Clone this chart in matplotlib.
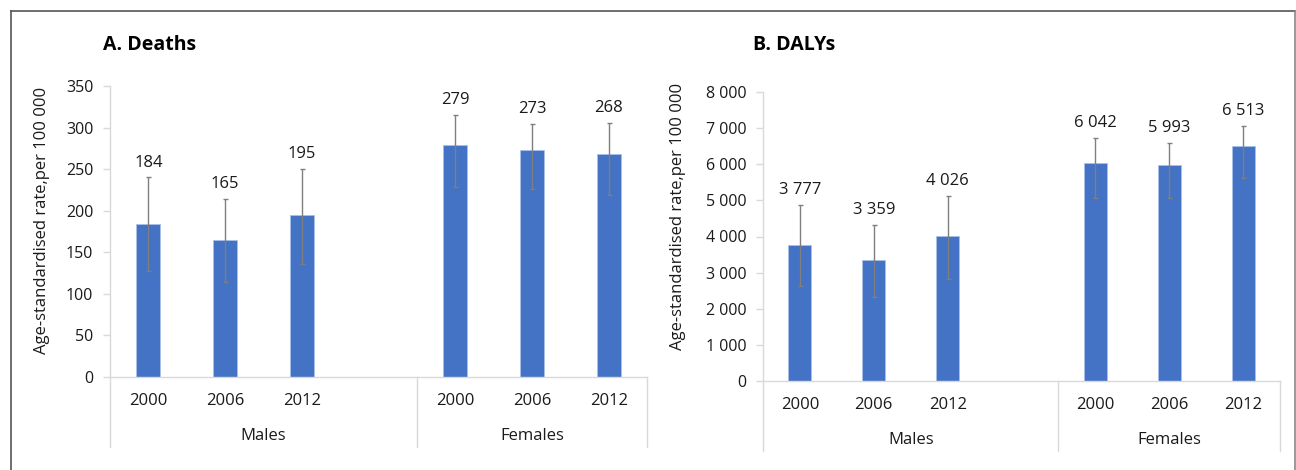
import matplotlib
matplotlib.use("Agg")
import matplotlib.pyplot as plt
from matplotlib.ticker import FuncFormatter

plt.rcParams['font.family'] = ['Open Sans', 'DejaVu Sans']

# data
years = ["2000", "2006", "2012"]
groups = ["Males", "Females"]

deaths = [184, 165, 195, 279, 273, 268]
deaths_lo = [127, 114, 136, 228, 226, 219]
deaths_hi = [240, 214, 250, 315, 304, 305]

dalys = [3777, 3359, 4026, 6042, 5993, 6513]
dalys_lo = [2630, 2325, 2823, 5066, 5066, 5619]
dalys_hi = [4872, 4318, 5121, 6727, 6588, 7059]

BLUE = "#4472C4"
GRID = "#d9d9d9"
TXT = "#1a1a1a"


def fmt(v, pos=None):
    return "{:,}".format(int(v)).replace(",", " ")


def draw_panel(ax, vals, lo, hi, ymax, ystep, fs_val=12):
    xs = [0, 1, 2, 4, 5, 6]
    yerr = [[v - l for v, l in zip(vals, lo)], [h - v for v, h in zip(vals, hi)]]
    ax.bar(xs, vals, width=0.31, color=BLUE, edgecolor="#a9c0e8", linewidth=0.6, zorder=2)
    ax.errorbar(xs, vals, yerr=yerr, fmt="none", ecolor="#7f7f7f",
                elinewidth=1.0, capsize=1.8, capthick=1.0, zorder=3)
    for x, v, h in zip(xs, vals, hi):
        ax.annotate(fmt(v), (x, h), xytext=(0, 5), textcoords="offset points",
                    ha="center", va="bottom", fontsize=fs_val, color=TXT)
    ax.set_xlim(-0.5, 6.5)
    ax.set_ylim(0, ymax)
    ax.set_yticks(range(0, ymax + 1, ystep))
    ax.yaxis.set_major_formatter(FuncFormatter(fmt))
    for s in ["top", "right"]:
        ax.spines[s].set_visible(False)
    for s in ["left", "bottom"]:
        ax.spines[s].set_color(GRID)
        ax.spines[s].set_linewidth(1.0)
    ax.tick_params(axis="y", direction="out", length=5, width=1, color=GRID,
                   pad=7, labelsize=11.5, labelcolor=TXT)
    ax.set_xticks([])

    # multi-level category axis
    h = ax.bbox.height
    tr = ax.get_xaxis_transform()
    for x, y in zip(xs, years * 2):
        ax.text(x, -24 / h, y, transform=tr, ha="center", va="center",
                fontsize=12, color=TXT)
    for x, g in zip([1.5, 5], groups):
        ax.text(x, -59 / h, g, transform=tr, ha="center", va="center",
                fontsize=12, color=TXT)
    for x in [-0.5, 3.5, 6.5]:
        ax.plot([x, x], [0, -70 / h], transform=tr, color=GRID, lw=1.0,
                clip_on=False)


fig = plt.figure(figsize=(12.96, 4.70), dpi=100)

ax1 = fig.add_axes([110 / 1296, 93 / 470, 537 / 1296, 291 / 470])
ax2 = fig.add_axes([763 / 1296, 89 / 470, 517 / 1296, 289 / 470])

draw_panel(ax1, deaths, deaths_lo, deaths_hi, 350, 50)
draw_panel(ax2, dalys, dalys_lo, dalys_hi, 8000, 1000)

ylab = "Age-standardised rate,per 100 000"
fig.text(42 / 1296, 1 - 220 / 470, ylab, rotation=90, ha="center", va="center",
         fontsize=12, color=TXT)
fig.text(678 / 1296, 1 - 216 / 470, ylab, rotation=90, ha="center", va="center",
         fontsize=12, color=TXT)

fig.text(103 / 1296, 1 - 45 / 470, "A. Deaths", ha="left", va="center",
         fontsize=14, fontweight="bold", color="black")
fig.text(753 / 1296, 1 - 45 / 470, "B. DALYs", ha="left", va="center",
         fontsize=14, fontweight="bold", color="black")

# outer frame (left, top, right)
fig.add_artist(plt.Line2D([11 / 1296, 11 / 1296], [0, 1 - 11 / 470],
                          transform=fig.transFigure, color="#555555", lw=1.2))
fig.add_artist(plt.Line2D([11 / 1296, 1294.5 / 1296], [1 - 11 / 470, 1 - 11 / 470],
                          transform=fig.transFigure, color="#555555", lw=1.2))
fig.add_artist(plt.Line2D([1294.5 / 1296, 1294.5 / 1296], [0, 1 - 11 / 470],
                          transform=fig.transFigure, color="#888888", lw=1.2))

fig.savefig("out.png", dpi=100)
